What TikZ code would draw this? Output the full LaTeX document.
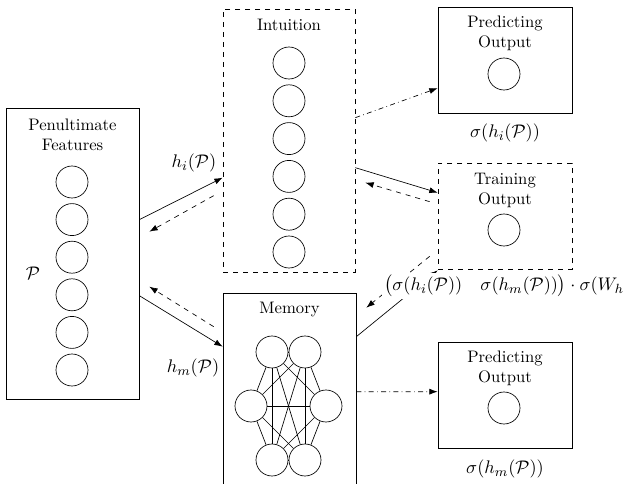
\documentclass[tikz,border=0pt]{standalone}
\usepackage{amsmath}
\usepackage{tikz}
\usetikzlibrary{arrows.meta,calc}

\tikzset{
	box/.style={draw, inner sep=0pt},
	outbox/.style={box, minimum width=80.4pt, minimum height=63.6pt},
	neuron/.style={draw, circle, minimum size=19.2pt, inner sep=0pt},
	fwd/.style={-{Latex[length=5pt,width=3.6pt]}},
	back/.style={fwd, dashed},
	pred/.style={fwd, dash dot},
	mathlabel/.style={font=\fontsize{10.95}{13.6}\selectfont}
}

\begin{document}
\begin{tikzpicture}[x=0.6pt,y=-0.6pt]
	\useasboundingbox (0,0) rectangle (623,484);
	% boxes
	\node[box, minimum width=79.8pt, minimum height=174.6pt] (pen) at (72.5,253.5) {};
	\node[box, dashed, minimum width=79.2pt, minimum height=157.8pt] (intu) at (289,140.5) {};
	\node[box, minimum width=79.8pt, minimum height=124.2pt] (mem) at (289.5,396.5) {};
	\node[outbox] (predi) at (505,60.5) {};
	\node[outbox, dashed] (train) at (505,216) {};
	\node[outbox] (predm) at (505,395) {};
	% titles
	\node[align=center] (pentitle) at (72.5,135) {Penultimate\\Features};
	\node (intutitle) at (289,25) {Intuition};
	\node (memtitle) at (289.5,310) {Memory};
	\node[align=center] (preditile) at (505,33.5) {Predicting\\Output};
	\node[align=center] (traintitle) at (505,190) {Training\\Output};
	\node[align=center] (predmtitle) at (505,368.5) {Predicting\\Output};
	% neurons
	\foreach \k in {0,...,5}{
		\node[neuron] (p\k) at (72,{182+37.6*\k}) {};
		\node[neuron] (i\k) at (289,{63+37.8*\k}) {};
	}
	\node[neuron] (oi) at (504,74) {};
	\node[neuron] (ot) at (504,230) {};
	\node[neuron] (om) at (504,408) {};
	\foreach \n/\x/\y in {m1/272/352, m2/305/352, m3/251/406, m4/326/406, m5/272/460, m6/305/460}
		\node[neuron] (\n) at (\x,\y) {};
	\foreach \a [evaluate=\a as \s using int(\a+1)] in {1,...,5}
		\foreach \b in {\s,...,6}
			\draw (m\a) -- (m\b);
	% connectors
	\draw[fwd] ($(pen.north east)+(0,112)$) -- ($(intu.north west)+(0,169)$);
	\draw[back] ($(intu.north west)+(-9,187)$) -- ($(pen.north east)+(10,124)$);
	\draw[fwd] ($(pen.north east)+(0,188)$) -- ($(mem.north west)+(0,54)$);
	\draw[back] ($(mem.north west)+(-9,34)$) -- ($(pen.north east)+(10,179)$);
	\draw[pred] ($(intu.north east)+(0,109)$) -- ($(predi.north west)+(0,81)$);
	\draw[fwd] ($(intu.north east)+(0,159)$) -- ($(train.north west)+(0,30)$);
	\draw[back] ($(train.north west)+(-8,39)$) -- ($(intu.north east)+(10,174)$);
	\draw[fwd] ($(mem.north east)+(0,44)$) -- ($(train.south west)+(0,1)$);
	\draw[back] ($(train.south west)+(-8,-13)$) -- ($(mem.north east)+(10,15)$);
	\draw[pred] ($(mem.north east)+(0,99)$) -- ($(predm.north west)+(0,50)$);
	% labels
	\node[mathlabel] (lp) at (33,273) {$\mathcal{P}$};
	\node[mathlabel] (lhi) at (194,163) {$h_i(\mathcal{P})$};
	\node[mathlabel] (lhm) at (193,368) {$h_m(\mathcal{P})$};
	\node[mathlabel] (lsi) at (505,133) {$\sigma(h_i(\mathcal{P}))$};
	\node[mathlabel] (lsm) at (505,469) {$\sigma(h_m(\mathcal{P}))$};
	\node[mathlabel, anchor=west, fill=white, inner sep=1pt] (lsw) at (382,286)
		{$\big(\sigma(h_i(\mathcal{P}))\quad\sigma(h_m(\mathcal{P}))\big)\cdot\sigma(W_h)$};
\end{tikzpicture}
\end{document}
